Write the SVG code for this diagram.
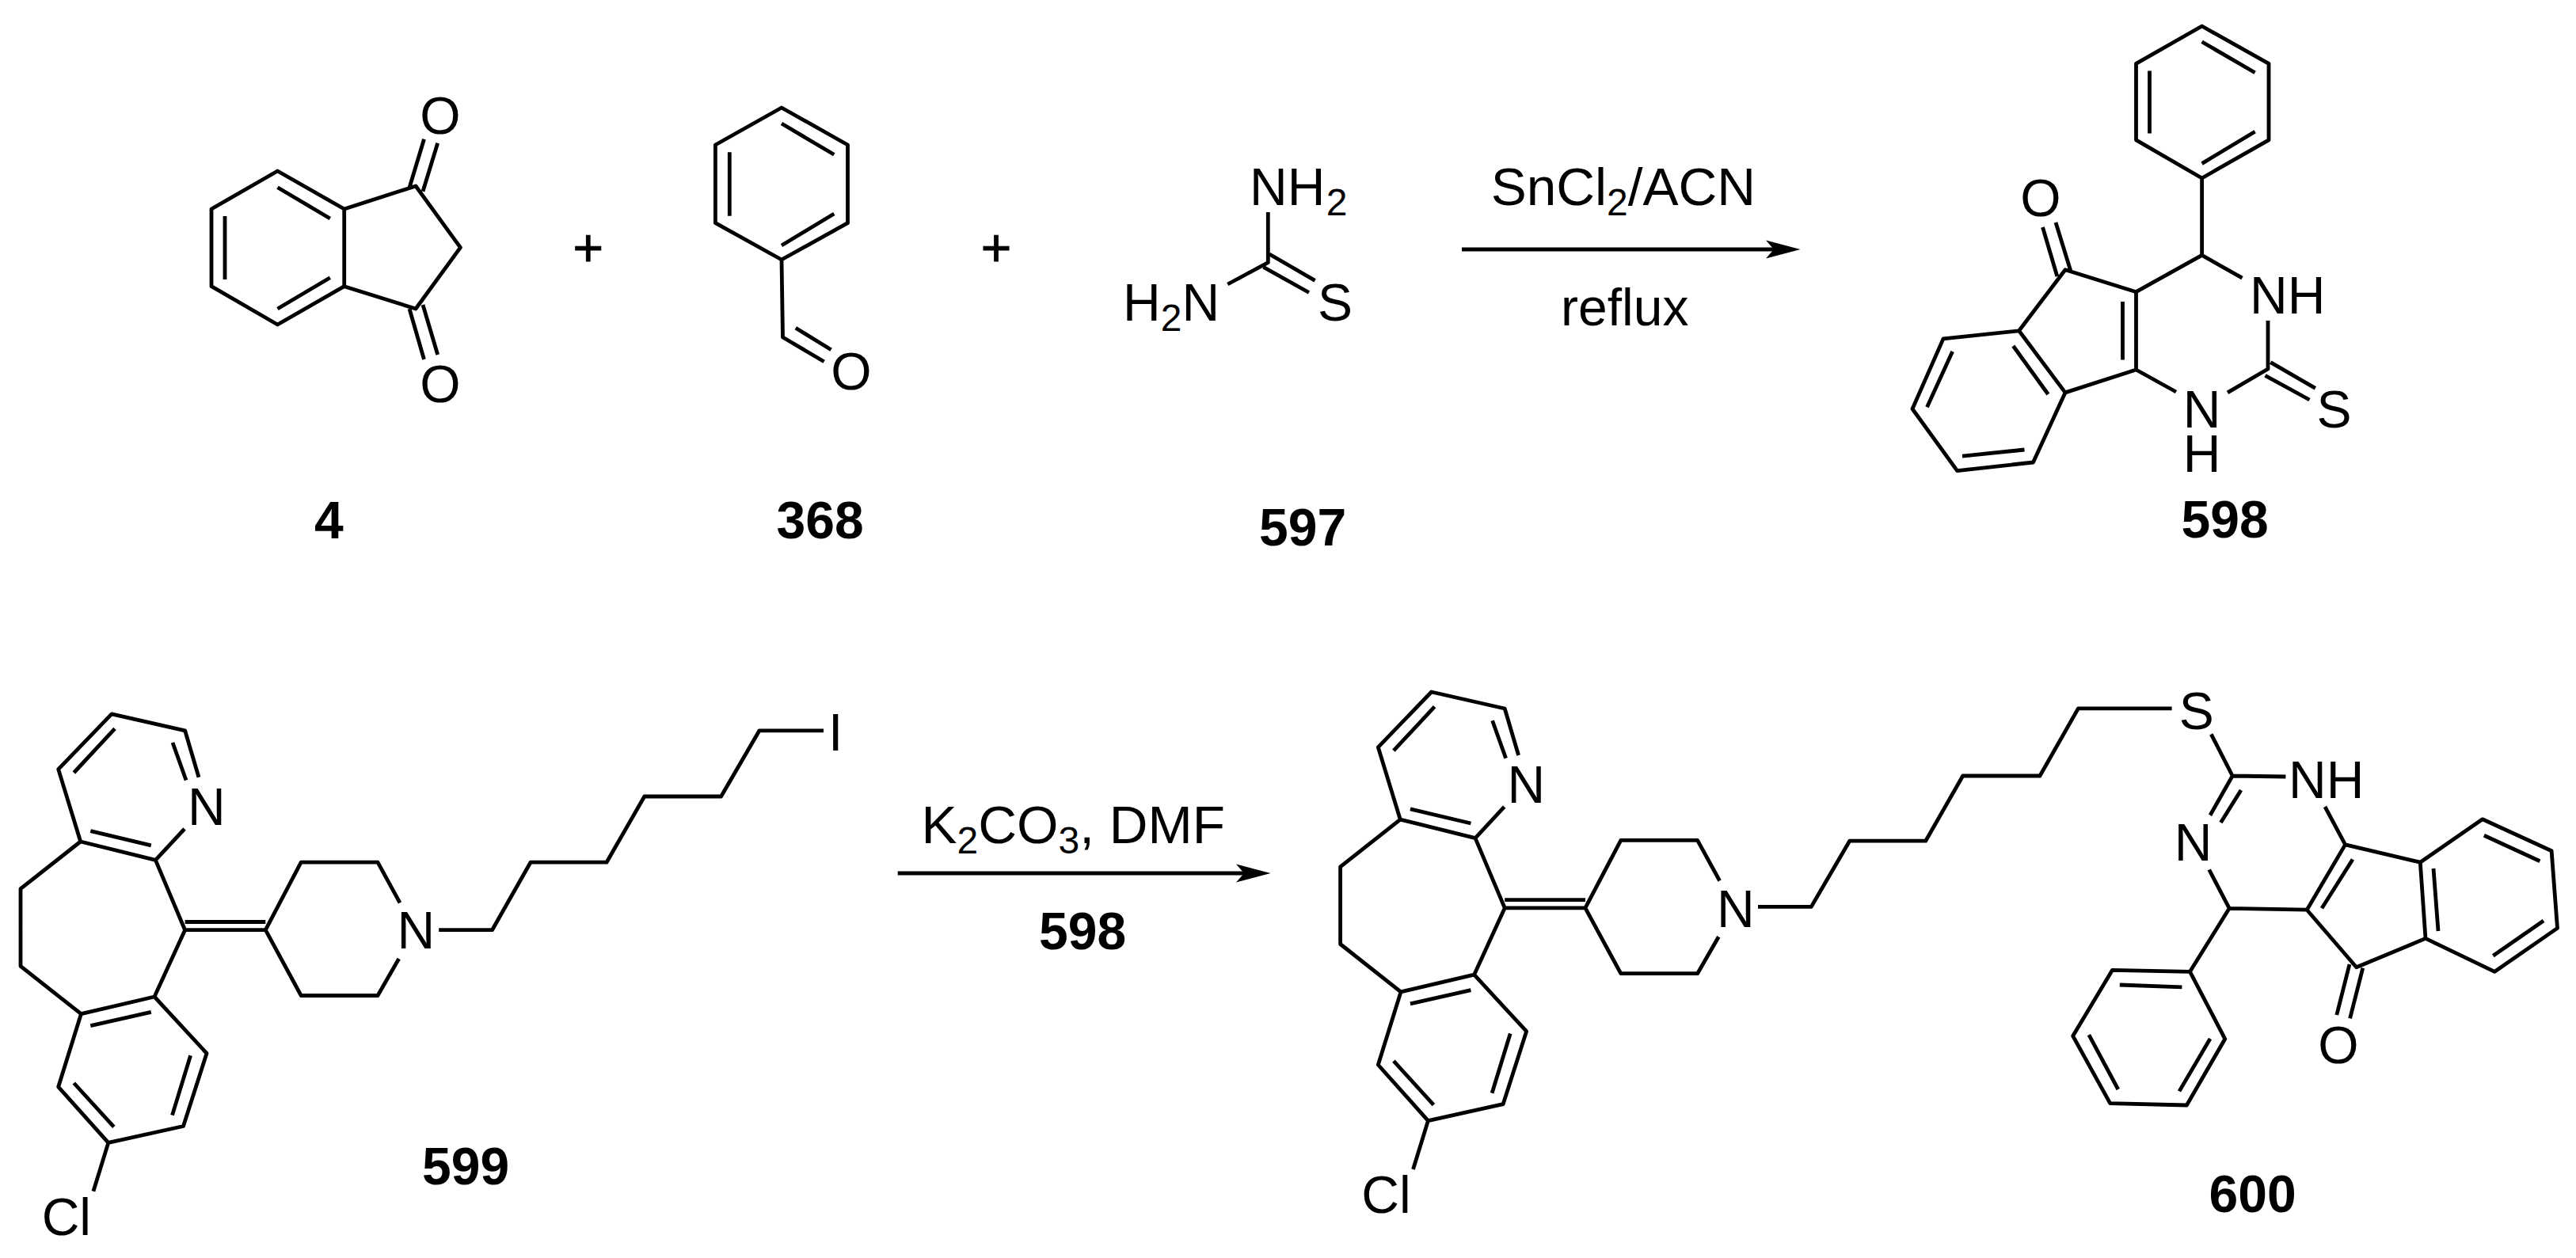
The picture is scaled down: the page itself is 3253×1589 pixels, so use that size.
<svg xmlns="http://www.w3.org/2000/svg" width="3253" height="1589" viewBox="0 0 3253 1589">
<style>
text{font-family:"Liberation Sans",Arial,sans-serif;font-size:66px;fill:#000}
text.n{font-weight:bold}
text.c{font-size:67.5px}
text.p{stroke:#000;stroke-width:1}
tspan.s{font-size:48px}
.bd{fill:none;stroke:#000;stroke-width:4.8;stroke-linejoin:round;stroke-linecap:butt}
.ar{fill:none;stroke:#000;stroke-width:5.2}
</style>
<defs>
<marker id="head" markerUnits="userSpaceOnUse" markerWidth="44" markerHeight="24" viewBox="0 -12 44 24" refX="10" refY="0" orient="auto"><path d="M0,-11.5L43.5,0L0,11.5L10,0Z" fill="#000"/></marker>
</defs>
<rect width="3253" height="1589" fill="#fff"/>
<g id="connectors">
<line class="ar" x1="1846" y1="315" x2="2240" y2="315" marker-end="url(#head)"/>
<line class="ar" x1="1133.7" y1="1103" x2="1571" y2="1103" marker-end="url(#head)"/>
</g>
<g id="conditions-1">
<text class="c" x="1882.7" y="259">SnCl<tspan class="s" dy="13">2</tspan><tspan dy="-13">/ACN</tspan></text>
<text x="1971" y="411">reflux</text>
</g>
<g id="conditions-2">
<text class="c" x="1163.5" y="1064.6">K<tspan class="s" dy="13">2</tspan><tspan dy="-13">CO</tspan><tspan class="s" dy="13">3</tspan><tspan dy="-13">, DMF</tspan></text>
<text class="n" x="1312" y="1199.4">598</text>
</g>
<g id="mol-4">
<path class="bd" d="M350.5,216L434.7,264V361.7L350.5,410L267,361.7V264ZM350.5,236.7L416.8,276M284,273V353M350.5,390L416.8,350.7M434.7,264L525,235L581.4,312.7L525,390L434.7,361.7M517,237L535.5,175.7M534,241.7L552.7,180.7M517,390L535.5,454M534,385L552.7,448"/>
<text x="556" y="169" text-anchor="middle">O</text>
<text x="556" y="508" text-anchor="middle">O</text>
<text class="n" x="397" y="680">4</text>
</g>
<g id="plus-1"><text class="p" x="742.7" y="336" text-anchor="middle">+</text></g>
<g id="mol-368">
<path class="bd" d="M987,136L1070.5,183V281.7L987,328L903.4,281.7V183ZM987,156L1053.3,195.3M921.3,192.3V272.7M987,310L1053.3,270M987,328L988.5,426L1040.6,456.7M1004.8,414.3L1049.5,441.7"/>
<text x="1075" y="491.5" text-anchor="middle">O</text>
<text class="n" x="980.5" y="680">368</text>
</g>
<g id="plus-2"><text class="p" x="1258" y="336" text-anchor="middle">+</text></g>
<g id="mol-597">
<path class="bd" d="M1601.3,268V331.7L1550.3,359M1603,321L1660.6,354.3M1595.5,337.4L1653,369.5"/>
<text x="1578" y="259.3">NH<tspan class="s" dx="1.5" dy="13">2</tspan></text>
<text x="1418" y="404.6">H<tspan class="s" dy="13">2</tspan><tspan dy="-13">N</tspan></text>
<text x="1664" y="404.6">S</text>
<text class="n" x="1590" y="689.3">597</text>
</g>
<g id="mol-598">
<path class="bd" d="M2780.6,33L2865,80.3V176.8L2780.6,225L2697.5,176.8V80.3ZM2780.6,52.8L2847.6,91.8M2714.5,89.5V168.5M2780.6,206.6L2847.6,166.2M2780.6,225V322.3L2831.5,351.2M2864,405V466L2813,495.9M2867.3,457.7L2923.8,490.3M2860.5,474.3L2916.5,505M2748,495L2697.5,467V368.7L2780.6,322.3M2680.5,381V454.5M2697.5,368.7L2608,340.7L2549.6,417.8L2608,495.9L2697.5,467M2549.6,417.8L2454,427.9L2415,516.5L2471.6,594.6L2567.5,584L2608,495.9M2542.3,437L2586.4,498M2465.6,444L2433.5,514.2M2478,576.2L2556.5,568M2597.8,349L2579.5,287M2614.8,342L2596,281"/>
<text x="2576.8" y="273" text-anchor="middle">O</text>
<text x="2841" y="396.2">NH</text>
<text x="2925.4" y="539.5">S</text>
<text x="2756.8" y="539.5">N<tspan x="2756.8" dy="56.5">H</tspan></text>
<text class="n" x="2754.5" y="678.6">598</text>
</g>
<g id="mol-599">
<path class="bd" d="M233,1047L196.4,1086.4L101.7,1063L73.7,971.6L141,901.8L233.6,922.8L251,981.8M218,938L235,985.5M145,920.4L93.3,976M114.3,1049.7L190.8,1067.8M101.7,1063L26,1122.7V1220.3L102.4,1280.7L195,1259L233.6,1174.7L196.4,1086.4M233.6,1174.7H335.3M233.6,1164.5H335.3M505,1140.3L477,1089.2H380.2L335.3,1174.7L380.2,1257.5H477L503.7,1211M554.2,1174.7H621.5L670,1089.2H766L813.8,1006H910.6L959,922.8H1040M195,1259L261,1330.5L231.5,1422.5L136.8,1443.4L73.7,1372.8L102.4,1280.7M114.3,1295.6L190.8,1278.4M240.6,1333.3L217.5,1408.6M143.8,1423.4L93.3,1368M136.8,1443.4L117.9,1504.8"/>
<text x="237" y="1042">N</text>
<text x="501.5" y="1198.4">N</text>
<text x="1046" y="948.3">I</text>
<text x="52.7" y="1559.7">Cl</text>
<text class="n" x="533" y="1496">599</text>
</g>
<g id="mol-600">
<g transform="translate(1666.6,-27.8)">
<path class="bd" d="M233,1047L196.4,1086.4L101.7,1063L73.7,971.6L141,901.8L233.6,922.8L251,981.8M218,938L235,985.5M145,920.4L93.3,976M114.3,1049.7L190.8,1067.8M101.7,1063L26,1122.7V1220.3L102.4,1280.7L195,1259L233.6,1174.7L196.4,1086.4M233.6,1174.7H335.3M233.6,1164.5H335.3M505,1140.3L477,1089.2H380.2L335.3,1174.7L380.2,1257.5H477L503.7,1211M195,1259L261,1330.5L231.5,1422.5L136.8,1443.4L73.7,1372.8L102.4,1280.7M114.3,1295.6L190.8,1278.4M240.6,1333.3L217.5,1408.6M143.8,1423.4L93.3,1368M136.8,1443.4L117.9,1504.8"/>
<text x="237" y="1042">N</text>
<text x="501.5" y="1198.4">N</text>
<text x="52.7" y="1559.7">Cl</text>
</g>
<path class="bd" d="M2220,1145.4H2287.3L2335.7,1062.2H2431.7L2478.7,980H2576L2624.4,894.9H2742.6M2792.3,927.4L2819.2,980L2886.4,981M2819.2,980L2791,1029.7M2830,998L2804.4,1039M2789.7,1098.5L2815.2,1147.3L2913.2,1149.2L2961.6,1066.9L2936,1019M2971,1085.5L2932,1147.3M2961.6,1066.9L3056.3,1089.2L3063,1185.4L2975.7,1221.7L2913.2,1149.2M3073,1097L3079,1176M3056.3,1089.2L3134.9,1034.8L3222.1,1074.8L3229.5,1172.4L3150.3,1227.3L3063,1185.4M3136.9,1055.3L3207.4,1087.8M3212,1163L3148.3,1207.3M2967,1218L2950.8,1282M2983.8,1222.6L2967.6,1286.3M2815.2,1147.3L2765.5,1227.3L2667.4,1225.4L2617.7,1308.6L2664.7,1393.7L2761.4,1396L2809.8,1312.3L2765.5,1227.3M2676.8,1244L2755.4,1246.8M2637.9,1307.2L2674.8,1376M2791,1312L2752,1378.4"/>
<text x="2751.7" y="921.4">S</text>
<text x="2890" y="1008.3">NH</text>
<text x="2745.7" y="1087.3">N</text>
<text x="2953" y="1342.5" text-anchor="middle">O</text>
<text class="n" x="2789.5" y="1530.9">600</text>
</g>
</svg>
